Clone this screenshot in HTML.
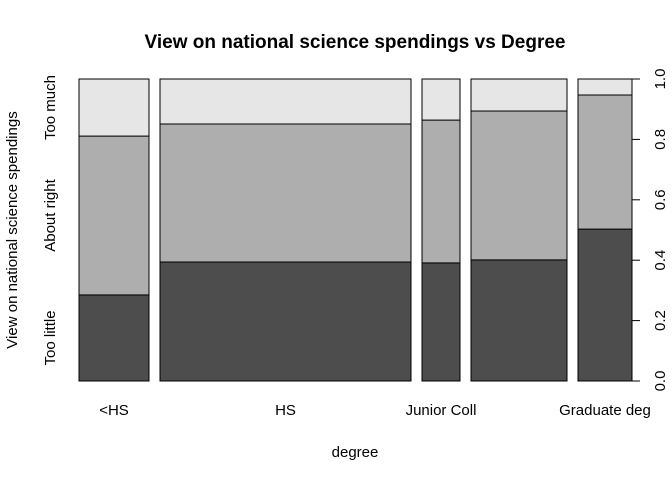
<!DOCTYPE html>
<html><head><meta charset="utf-8"><style>body{margin:0;background:#fff}svg{display:block;font-family:"Liberation Sans",sans-serif}</style></head>
<body>
<svg id="c" width="672" height="480">
<text x="355" y="48" text-anchor="middle" font-size="19" font-weight="bold">View on national science spendings vs Degree</text>
<text x="355" y="457" text-anchor="middle" font-size="15">degree</text>
<text transform="translate(17,230) rotate(-90)" text-anchor="middle" font-size="15">View on national science spendings</text>
<g id="bars"></g><g id="axis"></g>
</svg>
<script>
const categories=["<HS","HS","Junior Coll","Bachelor deg","Graduate deg"];
const counts=[70,251,38,96,54];
const tooLittle=[0.285,0.394,0.391,0.401,0.503];
const aboutRight=[0.526,0.457,0.473,0.493,0.444];
const tooMuch=[0.189,0.149,0.136,0.106,0.053];
const levels=["Too little","About right","Too much"];
const showLabel=[true,true,true,false,true];
const ticks=[0,0.2,0.4,0.6,0.8,1.0];
const NS="http://www.w3.org/2000/svg";
const x0=79,x1=632,y0=381,y1=79,gap=11;
const total=counts.reduce((a,b)=>a+b,0);
const unit=(x1-x0-gap*(counts.length-1))/total;
const yS=v=>y0-(y0-y1)*v;
const fills=["#4d4d4d","#aeaeae","#e6e6e6"];
const series=[tooLittle,aboutRight,tooMuch];
const bars=document.getElementById('bars'),ax=document.getElementById('axis');
function mk(t,a,p){const e=document.createElementNS(NS,t);for(const k in a)e.setAttribute(k,a[k]);p.appendChild(e);return e;}
let x=x0;
categories.forEach((c,i)=>{
  const w=counts[i]*unit;let cum=0;
  series.forEach((s,j)=>{
    const r=mk('rect',{x:x,y:yS(cum+s[i]),width:w,height:yS(cum)-yS(cum+s[i]),fill:fills[j],stroke:'#000','stroke-width':1},bars);
    
    
    cum+=s[i];
  });
  if(showLabel[i]){
    const t=mk('text',{x:x+w/2,y:415,'text-anchor':'middle','font-size':15},ax);t.textContent=c;
    
    
  }
  x+=w+gap;
});
let cum=0;
levels.forEach((l,j)=>{
  const mid=yS(cum+series[j][0]/2);cum+=series[j][0];
  const t=mk('text',{transform:`translate(55,${mid}) rotate(-90)`,'text-anchor':'middle','font-size':15},ax);t.textContent=l;
  
  
});
const al=mk('line',{x1:x1,x2:x1,y1:y0,y2:y1,stroke:'#000'},ax);


ticks.forEach(v=>{
  const l=mk('line',{x1:x1,x2:x1+8,y1:yS(v),y2:yS(v),stroke:'#000'},ax);
  
  
  const t=mk('text',{transform:`translate(665,${yS(v)}) rotate(-90)`,'text-anchor':'middle','font-size':15},ax);t.textContent=v.toFixed(1);
  
  
});
</script>
</body></html>
